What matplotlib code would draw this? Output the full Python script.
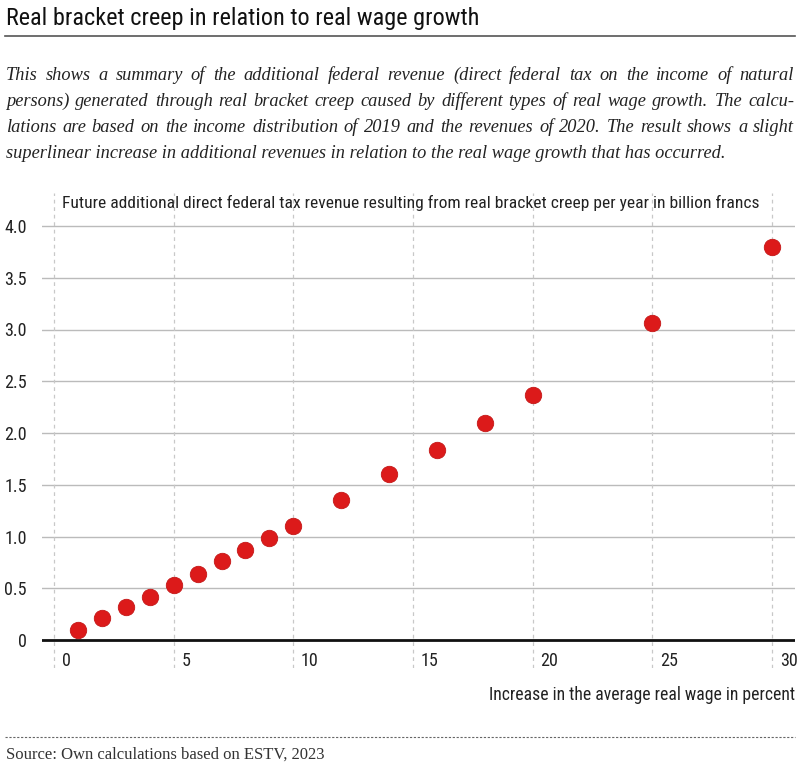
import matplotlib
matplotlib.use('Agg')
import matplotlib.pyplot as plt

# wage growth in percent and additional revenue in billion francs
wage_growth = [1, 2, 3, 4, 5, 6, 7, 8, 9, 10, 12, 14, 16, 18, 20, 25, 30]
revenue = [0.10, 0.21, 0.32, 0.42, 0.53, 0.64, 0.76, 0.87, 0.99, 1.10,
           1.35, 1.60, 1.84, 2.10, 2.37, 3.06, 3.80]
x_ticks = [0, 5, 10, 15, 20, 25, 30]
y_ticks = [0, 0.5, 1.0, 1.5, 2.0, 2.5, 3.0, 3.5, 4.0]
y_tick_labels = ['0', '0.5', '1.0', '1.5', '2.0', '2.5', '3.0', '3.5', '4.0']

title = 'Real bracket creep in relation to real wage growth'
intro = ['This shows a summary of the additional federal revenue (direct federal tax on the income of natural',
         'persons) generated through real bracket creep caused by different types of real wage growth. The calcu-',
         'lations are based on the income distribution of 2019 and the revenues of 2020. The result shows a slight',
         'superlinear increase in additional revenues in relation to the real wage growth that has occurred.']
y_title = 'Future additional direct federal tax revenue resulting from real bracket creep per year in billion francs'
x_title = 'Increase in the average real wage in percent'
source = 'Source: Own calculations based on ESTV, 2023'

sans = ['Roboto Condensed', 'DejaVu Sans']
serif = ['Liberation Serif', 'DejaVu Serif']

W, H = 808, 772
fig = plt.figure(figsize=(W / 100, H / 100), dpi=100)
renderer = fig.canvas.get_renderer()

# title and rule
fig.text(6 / W, 1 - 19 / H, title, fontsize=17.5, family=sans, va='center', ha='left', color='#111111')
fig.add_artist(plt.Line2D([5 / W, 795 / W], [1 - 36 / H, 1 - 36 / H], color='#555555', lw=1.2))


def justified_line(line, y_px, x0_px, x1_px, justify):
    words = line.split(' ')
    kw = dict(fontsize=13.2, family=serif, style='italic', va='center', ha='left', color='#222222')
    if not justify:
        fig.text(x0_px / W, 1 - y_px / H, line, **kw)
        return
    texts = [fig.text(0, 1 - y_px / H, w, **kw) for w in words]
    widths = [t.get_window_extent(renderer).width for t in texts]
    gap = (x1_px - x0_px - sum(widths)) / (len(words) - 1)
    x = x0_px
    for t, w in zip(texts, widths):
        t.set_x(x / W)
        x += w + gap


# intro text, justified as in the original
for i, line in enumerate(intro):
    justified_line(line, 75 + 26 * i, 6, 794, i < len(intro) - 1)

# axes: y=0 at 640px, y=4 at 226px; x=0 at 54px, x=30 at 772px
px_per_y = (640 - 226) / 4
px_per_x = (772 - 54) / 30
ax_left, ax_right = 42, 795
ax_top, ax_bottom = 193, 668
ax = fig.add_axes([ax_left / W, 1 - ax_bottom / H, (ax_right - ax_left) / W, (ax_bottom - ax_top) / H])
ax.set_xlim(-(54 - ax_left) / px_per_x, 30 + (ax_right - 772) / px_per_x)
ax.set_ylim(-(ax_bottom - 640) / px_per_y, 4 + (226 - ax_top) / px_per_y)
for s in ax.spines.values():
    s.set_visible(False)

for yv in y_ticks[1:]:
    ax.axhline(yv, color='#bbbbbb', lw=1, zorder=1)
ax.axhline(0, color='#111111', lw=2, zorder=2)
for xv in x_ticks:
    ax.axvline(xv, color='#c8c8c8', lw=0.9, ls=(0, (3, 3)), zorder=1)
    ax.annotate(str(xv), (xv, 0), xytext=(5.5, -15), textcoords='offset points', fontsize=13,
                family=sans, color='#222222', ha='left', va='center')

ax.set_xticks([])
ax.set_yticks(y_ticks)
ax.set_yticklabels(y_tick_labels, fontsize=13, family=sans, color='#222222')
ax.tick_params(axis='y', length=0, pad=11)

ax.scatter(wage_growth, revenue, s=140, color='#dc1a1a', edgecolor='#c41616', lw=0.6, zorder=5)

fig.text(62 / W, 1 - 203 / H, y_title, fontsize=12.6, family=sans, va='center', ha='left', color='#222222')
fig.text(795 / W, 1 - 695 / H, x_title, fontsize=12.7, family=sans, va='center', ha='right', color='#222222')

fig.add_artist(plt.Line2D([5 / W, 795 / W], [1 - 737 / H, 1 - 737 / H], color='#666666', lw=0.8,
                          ls=(0, (2, 1.5))))
fig.text(6 / W, 1 - 755 / H, source, fontsize=12, family=serif, va='center', ha='left', color='#333333')

fig.savefig('out.png', dpi=100, facecolor='white')
